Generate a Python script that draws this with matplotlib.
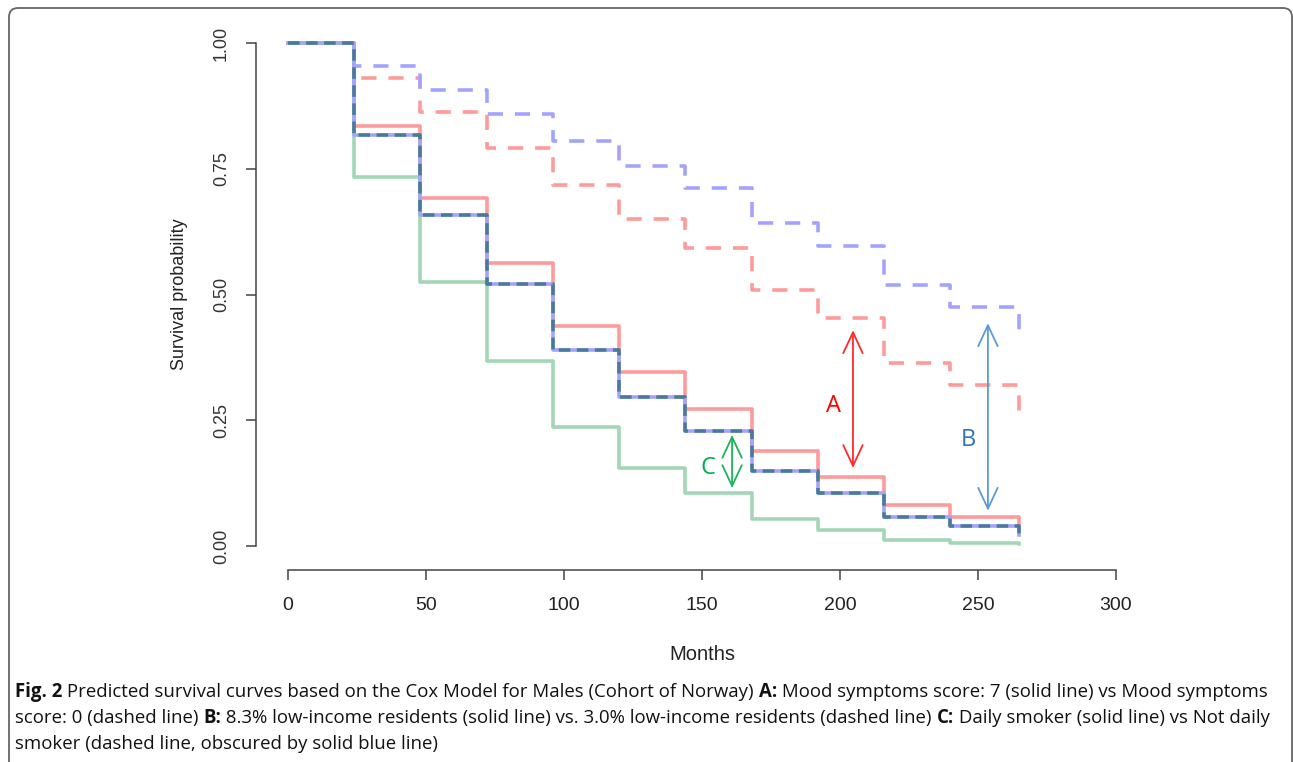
import matplotlib
matplotlib.use("Agg")
import matplotlib.pyplot as plt
from matplotlib import font_manager
from matplotlib.patches import FancyBboxPatch, FancyArrowPatch
from matplotlib.transforms import IdentityTransform

# ---------------- data ----------------
months = [0, 24, 48, 72, 96, 120, 144, 168, 192, 216, 240, 265]
mood7_solid = [1.00, 0.835, 0.691, 0.562, 0.438, 0.345, 0.272, 0.188, 0.138, 0.082, 0.058, 0.042]
mood0_dashed = [1.00, 0.931, 0.863, 0.792, 0.718, 0.651, 0.592, 0.509, 0.453, 0.364, 0.321, 0.266]
lowinc83_solid = [1.00, 0.817, 0.659, 0.521, 0.390, 0.297, 0.228, 0.150, 0.106, 0.058, 0.040, 0.022]
lowinc30_dashed = [1.00, 0.955, 0.907, 0.858, 0.806, 0.756, 0.712, 0.643, 0.596, 0.519, 0.476, 0.410]
daily_smoker_solid = [1.00, 0.733, 0.524, 0.367, 0.237, 0.156, 0.105, 0.053, 0.032, 0.012, 0.005, 0.003]
not_daily_dashed = [1.00, 0.817, 0.659, 0.521, 0.390, 0.297, 0.228, 0.150, 0.106, 0.058, 0.040, 0.022]

x_ticks = [0, 50, 100, 150, 200, 250, 300]
y_ticks = [0.00, 0.25, 0.50, 0.75, 1.00]
y_tick_labels = ["0.00", "0.25", "0.50", "0.75", "1.00"]

# arrows: (x, y_low, y_high), labels: (x, y, text)
arrow_A = (204.7, 0.155, 0.429)
arrow_B = (253.6, 0.070, 0.443)
arrow_C = (160.9, 0.115, 0.221)
label_A = (197.5, 0.278, "A")
label_B = (246.4, 0.211, "B")
label_C = (152.2, 0.155, "C")

caption_lines = [
    [("Fig. 2", True), (" Predicted survival curves based on the Cox Model for Males (Cohort of Norway) ", False),
     ("A:", True), (" Mood symptoms score: 7 (solid line) vs Mood symptoms", False)],
    [("score: 0 (dashed line) ", False), ("B:", True),
     (" 8.3% low-income residents (solid line) vs. 3.0% low-income residents (dashed line) ", False),
     ("C:", True), (" Daily smoker (solid line) vs Not daily", False)],
    [("smoker (dashed line, obscured by solid blue line)", False)],
]

# ---------------- fonts ----------------
names = {f.name for f in font_manager.fontManager.ttflist}
axis_font = "Liberation Sans" if "Liberation Sans" in names else "DejaVu Sans"
narrow_font = "Liberation Sans Narrow" if "Liberation Sans Narrow" in names else axis_font
cap_font = "Open Sans" if "Open Sans" in names else "DejaVu Sans"

W, H = 1293, 762
fig = plt.figure(figsize=(W / 100, H / 100), dpi=100)

def px_ax(x0, x1, ytop, ybot):
    return [x0 / W, (H - ybot) / H, (x1 - x0) / W, (ybot - ytop) / H]

ax = fig.add_axes(px_ax(288, 1116, 43, 546))
ax.set_xlim(0, 300)
ax.set_ylim(0, 1)

LW = 2.6
c_red = "#ff9a9a"
c_blue = "#a3a3ff"
c_green = "#a2d6b6"
c_dark = "#0d5f5a"

ax.plot(months, mood0_dashed, drawstyle="steps-post", color=c_red, lw=LW, dashes=(4.2, 3.3),
        clip_on=False, zorder=2)
ax.plot(months, lowinc30_dashed, drawstyle="steps-post", color=c_blue, lw=LW, dashes=(4.2, 3.3),
        clip_on=False, zorder=2)
ax.plot(months, mood7_solid, drawstyle="steps-post", color=c_red, lw=LW, clip_on=False, zorder=3)
ax.plot(months, daily_smoker_solid, drawstyle="steps-post", color=c_green, lw=LW, clip_on=False, zorder=3)
ax.plot(months, lowinc83_solid, drawstyle="steps-post", color=c_blue, lw=LW, clip_on=False, zorder=4)
ax.plot(months, not_daily_dashed, drawstyle="steps-post", color=c_dark, lw=LW, alpha=0.6,
        dashes=(3.2, 1.8), clip_on=False, zorder=5)

# arrows and letters
for (xa, y0, y1), col in [(arrow_A, "#ff2a2a"), (arrow_B, "#5b9bd5"), (arrow_C, "#1fb45a")]:
    ar = FancyArrowPatch((xa, y0), (xa, y1), arrowstyle="<->,head_length=0.75,head_width=0.35",
                         mutation_scale=20, color=col, lw=1.3, zorder=6,
                         shrinkA=0, shrinkB=0)
    ax.add_patch(ar)
for (xl, yl, t), col in [(label_A, "#ff0000"), (label_B, "#2e75b6"), (label_C, "#00b050")]:
    ax.text(xl, yl, t, color=col, fontsize=17, family=cap_font, ha="center", va="center", zorder=7)

# R-style axes
for s in ["top", "right"]:
    ax.spines[s].set_visible(False)
ax.spines["left"].set_position(("outward", 32 * 0.72))
ax.spines["bottom"].set_position(("outward", 24 * 0.72))
ax.spines["left"].set_bounds(0, 1)
ax.spines["bottom"].set_bounds(0, 300)
for s in ["left", "bottom"]:
    ax.spines[s].set_color("#444444")
    ax.spines[s].set_linewidth(1.1)

ax.set_xticks(x_ticks)
ax.set_xticklabels([str(v) for v in x_ticks], family=narrow_font, fontsize=14, color="#222222")
ax.set_yticks(y_ticks)
ax.set_yticklabels(y_tick_labels, family=axis_font, fontsize=13, color="#333333",
                   rotation=90, va="center")
ax.tick_params(axis="both", length=7.2, width=1.1, color="#444444")
ax.tick_params(axis="x", pad=12)
ax.tick_params(axis="y", pad=11.5)

fig.text(702 / W, 1 - 654 / H, "Months", family=narrow_font, fontsize=14.5, color="#222222",
         ha="center", va="center")
fig.text(180 / W, 1 - 294 / H, "Survival probability", family=axis_font, fontsize=13,
         color="#222222", rotation=90, ha="center", va="center")

# frame around the figure
frame = FancyBboxPatch((9, -20), 1283, H - 8 + 20, boxstyle="round,pad=0,rounding_size=9",
                       transform=IdentityTransform(), fill=False, ec="#666666", lw=1.3,
                       figure=fig)
fig.patches.append(frame)

# caption with mixed bold/normal pieces
renderer = fig.canvas.get_renderer()

def line_width(pieces, size):
    total = 0
    for txt, bold in pieces:
        t = fig.text(0, 0, txt, family=cap_font, fontsize=size,
                     fontweight="bold" if bold else "normal")
        total += t.get_window_extent(renderer).width
        t.remove()
    return total

base = 10
wid = line_width(caption_lines[0], base)
cap_size = base * (1262 - 15) / wid

baselines = [697, 723, 749]
for pieces, yb in zip(caption_lines, baselines):
    xcur = 15
    for txt, bold in pieces:
        t = fig.text(xcur / W, 1 - yb / H, txt, family=cap_font, fontsize=cap_size,
                     fontweight="bold" if bold else "normal", color="#111111",
                     ha="left", va="baseline")
        xcur += t.get_window_extent(renderer).width

fig.savefig("out.png", dpi=100)
